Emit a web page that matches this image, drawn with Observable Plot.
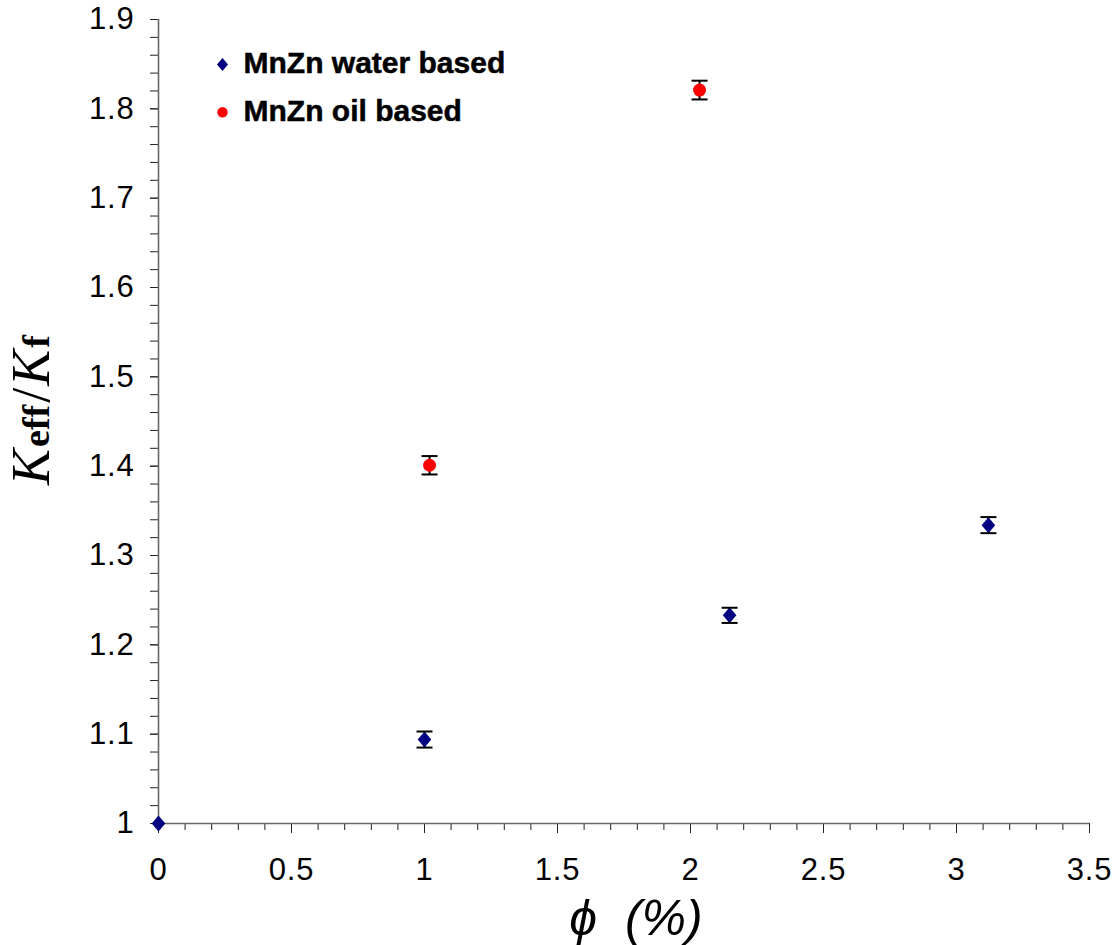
<!DOCTYPE html>
<html>
<head>
<meta charset="utf-8">
<script src="https://cdn.jsdelivr.net/npm/d3@7"></script>
<script src="https://cdn.jsdelivr.net/npm/@observablehq/plot@0.6"></script>
<style>
  html, body { margin: 0; padding: 0; background: #fff; }
  #chart svg { display: block; }
</style>
</head>
<body>
<div id="chart"></div>
<script>
// ---- data ----
const seriesNames = ["MnZn water based", "MnZn oil based"];
const waterPhi = [0, 1.0, 2.147, 3.12];
const waterK   = [1.0, 1.094, 1.233, 1.334];
const waterErr = [0, 0.009, 0.0085, 0.009];
const oilPhi = [1.019, 2.034];
const oilK   = [1.401, 1.821];
const oilErr = [0.0103, 0.0105];

const xTicks = [0, 0.5, 1, 1.5, 2, 2.5, 3, 3.5];
const xTickLabels = ["0", "0.5", "1", "1.5", "2", "2.5", "3", "3.5"];
const yTicks = [1, 1.1, 1.2, 1.3, 1.4, 1.5, 1.6, 1.7, 1.8, 1.9];
const yTickLabels = ["1", "1.1", "1.2", "1.3", "1.4", "1.5", "1.6", "1.7", "1.8", "1.9"];
const xMinorTicks = d3.range(0, 36).map(i => i / 10);
const yMinorTicks = d3.range(0, 46).map(i => 1 + i / 50);
const xLabel = "ϕ  (%)";

// ---- tables ----
const water = waterPhi.map((x, i) => ({x, y: waterK[i], e: waterErr[i]}));
const oil = oilPhi.map((x, i) => ({x, y: oilK[i], e: oilErr[i]}));
const withErr = water.concat(oil).filter(d => d.e > 0);

// custom symbols
const diamond = {
  draw(ctx, size) {
    const r = Math.sqrt(size / Math.PI);
    const w = r * 0.85;
    ctx.moveTo(0, -r); ctx.lineTo(w, 0); ctx.lineTo(0, r); ctx.lineTo(-w, 0); ctx.closePath();
  }
};
const cap = {
  draw(ctx, size) {
    const r = Math.sqrt(size / Math.PI);
    ctx.moveTo(-r, 0); ctx.lineTo(r, 0);
  }
};

const navy = "#000080";
const red = "#ff0000";

const plot = Plot.plot({
  width: 1120,
  height: 945,
  marginLeft: 158,
  marginRight: 31,
  marginTop: 19,
  marginBottom: 122,
  style: {fontFamily: "'Liberation Sans', Arial, sans-serif", color: "#000", background: "#fff"},
  x: {domain: [0, 3.5]},
  y: {domain: [1, 1.9]},
  marks: [
    // minor ticks
    Plot.axisX({ticks: xMinorTicks, tickSize: 7, text: null, stroke: "#222", label: null}),
    Plot.axisY({ticks: yMinorTicks, tickSize: 8, text: null, stroke: "#222", label: null}),
    // major ticks & labels
    Plot.axisX({ticks: xTicks, tickSize: 10, tickPadding: 24, fontSize: 31,
      tickFormat: d => xTickLabels[xTicks.indexOf(d)], stroke: "#222", label: null}),
    Plot.axisY({ticks: yTicks, tickSize: 8, tickPadding: 16, fontSize: 31,
      tickFormat: d => yTickLabels[yTicks.indexOf(d)], stroke: "#222", label: null}),
    // axis lines
    Plot.ruleY([1], {x1: 0, x2: 3.5, stroke: "#666", strokeWidth: 1.6}),
    Plot.ruleX([0], {y1: 1, y2: 1.9, stroke: "#666", strokeWidth: 1.6}),
    // error bars
    Plot.ruleX(withErr, {x: "x", y1: d => d.y - d.e, y2: d => d.y + d.e, stroke: "#000", strokeWidth: 2}),
    // points
    Plot.dot(water, {x: "x", y: "y", symbol: diamond, r: 8, fill: navy, stroke: "none"}),
    Plot.dot(oil, {x: "x", y: "y", symbol: "circle", r: 6.5, fill: red, stroke: "none"}),
    // caps
    Plot.dot(withErr, {x: "x", y: d => d.y + d.e, symbol: cap, r: 8, stroke: "#000", strokeWidth: 2, fill: "none"}),
    Plot.dot(withErr, {x: "x", y: d => d.y - d.e, symbol: cap, r: 8, stroke: "#000", strokeWidth: 2, fill: "none"}),
    // legend
    Plot.dot([seriesNames[0]], {frameAnchor: "top-left", dx: 64, dy: 45, symbol: diamond, r: 6.5, fill: navy, stroke: "none"}),
    Plot.dot([seriesNames[1]], {frameAnchor: "top-left", dx: 64, dy: 92.7, symbol: "circle", r: 5.2, fill: red, stroke: "none"}),
    Plot.text([seriesNames[0]], {frameAnchor: "top-left", dx: 85, dy: 44, text: d => d, textAnchor: "start", lineAnchor: "middle",
      fontSize: 30, fontWeight: "bold", fill: "#000", stroke: "#000", strokeWidth: 0.5, ariaLabel: "legend-text"}),
    Plot.text([seriesNames[1]], {frameAnchor: "top-left", dx: 85, dy: 92, text: d => d, textAnchor: "start", lineAnchor: "middle",
      fontSize: 30, fontWeight: "bold", fill: "#000", stroke: "#000", strokeWidth: 0.5, ariaLabel: "legend-text"}),
    // x label
    Plot.text([xLabel], {frameAnchor: "bottom", dx: 12, dy: 111, text: d => d, lineAnchor: "bottom",
      fontSize: 50, fontStyle: "italic", fill: "#000"})
  ]
});

document.getElementById("chart").appendChild(plot);

const svg = d3.select(plot);
// slightly wider lettering, as in the reference
svg.selectAll("g[aria-label='x-axis tick label'] text, g[aria-label='y-axis tick label'] text")
  .style("letter-spacing", "0.8px");
svg.selectAll("g[aria-label='legend-text'] text").style("letter-spacing", "1.2px");

// y label with mixed fonts (K_eff / K_f)
const yl = svg.append("text")
  .attr("transform", "translate(49,410) rotate(-90)")
  .attr("text-anchor", "middle")
  .attr("font-family", "'Liberation Serif', 'Times New Roman', serif")
  .attr("fill", "#000");
yl.append("tspan").attr("font-size", 54).attr("font-style", "italic").text("K");
yl.append("tspan").attr("font-size", 38).attr("font-weight", "bold").attr("dx", 2).text("eff");
yl.append("tspan").attr("font-size", 54).attr("dx", 2).text("/");
yl.append("tspan").attr("font-size", 54).attr("font-style", "italic").attr("dx", 2).text("K");
yl.append("tspan").attr("font-size", 38).attr("font-weight", "bold").attr("dx", 2).text("f");
</script>
</body>
</html>
